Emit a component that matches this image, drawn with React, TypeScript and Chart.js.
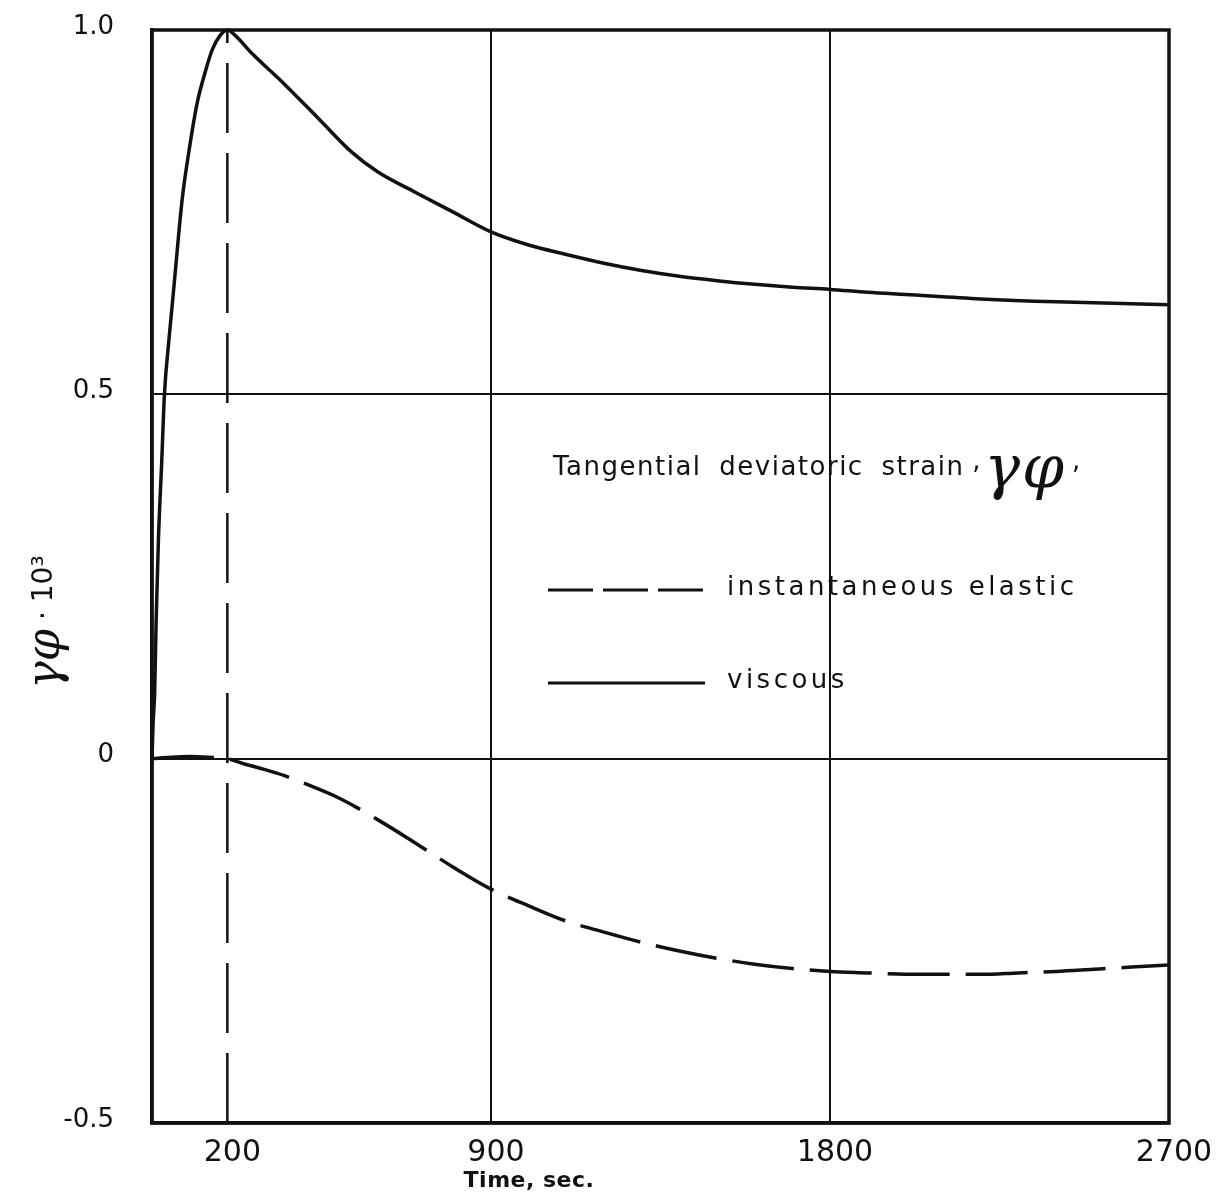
import React, { useEffect, useRef } from "react";
import { Chart, registerables } from "chart.js";

Chart.register(...registerables);

// ---- data ----
const viscousTime = [0, 3, 7, 11, 17, 26, 33, 45, 55, 63, 80, 100, 120, 140, 160, 180, 200, 220, 265, 353, 443, 531, 600, 700, 800, 900, 1000, 1100, 1200, 1300, 1400, 1500, 1600, 1700, 1800, 1900, 2000, 2200, 2400, 2700];
const viscousStrain = [0, 0.05, 0.09, 0.19, 0.3, 0.41, 0.5, 0.575, 0.63, 0.675, 0.767, 0.84, 0.9, 0.94, 0.973, 0.992, 1.0, 0.993, 0.968, 0.925, 0.878, 0.832, 0.805, 0.777, 0.75, 0.723, 0.705, 0.692, 0.68, 0.67, 0.662, 0.656, 0.651, 0.647, 0.644, 0.64, 0.637, 0.631, 0.627, 0.623];

const elasticTime = [0, 50, 100, 150, 200, 250, 300, 350, 400, 500, 600, 700, 800, 900, 1000, 1100, 1200, 1300, 1400, 1500, 1600, 1700, 1800, 1900, 2000, 2100, 2200, 2300, 2400, 2500, 2600, 2700];
const elasticStrain = [0, 0.002, 0.003, 0.002, 0, -0.008, -0.015, -0.023, -0.033, -0.055, -0.084, -0.116, -0.149, -0.179, -0.202, -0.223, -0.238, -0.252, -0.264, -0.274, -0.282, -0.288, -0.292, -0.294, -0.296, -0.296, -0.296, -0.294, -0.292, -0.289, -0.286, -0.283];

const markerTime = [200, 200];
const markerStrain = [-0.5, 1.0];

const xTicks = [200, 900, 1800, 2700];
const yTicks = [-0.5, 0, 0.5, 1.0];
const yTickLabels = ["-0.5", "0", "0.5", "1.0"];

const xTitle = "Time, sec.";
const yTitleSymbol = "γφ";
const yTitleRest = " · 10³";
const legendTitle = "Tangential deviatoric strain ";
const legendSymbol = "γφ";
const elasticLabel = "instantaneous elastic";
const viscousLabel = "viscous";

const INK = "#111";

const pts = (xs: number[], ys: number[]) => xs.map((x, i) => ({ x, y: ys[i] }));

const decor = {
  id: "decor",
  afterDraw(chart: any) {
    const { ctx, chartArea: a } = chart;
    ctx.save();
    ctx.strokeStyle = INK;
    ctx.lineWidth = 3.5;
    ctx.strokeRect(a.left, a.top, a.right - a.left, a.bottom - a.top);

    ctx.fillStyle = INK;
    ctx.textBaseline = "middle";

    // x title
    ctx.font = "bold 22px 'DejaVu Sans'";
    ctx.textAlign = "center";
    (ctx as any).letterSpacing = "0.5px";
    ctx.fillText(xTitle, 529, 1181);

    // y title
    ctx.save();
    ctx.translate(45, 622);
    ctx.rotate(-Math.PI / 2);
    ctx.textAlign = "left";
    (ctx as any).letterSpacing = "0px";
    ctx.font = "italic 46px 'DejaVu Serif'";
    const w1 = ctx.measureText(yTitleSymbol).width;
    ctx.font = "28px 'DejaVu Sans'";
    const w2 = ctx.measureText(yTitleRest).width;
    const start = -(w1 + w2) / 2;
    ctx.font = "italic 46px 'DejaVu Serif'";
    ctx.fillText(yTitleSymbol, start, 2);
    ctx.font = "28px 'DejaVu Sans'";
    ctx.fillText(yTitleRest, start + w1, 0);
    ctx.restore();

    // legend
    ctx.textAlign = "left";
    ctx.font = "26px 'DejaVu Sans'";
    (ctx as any).letterSpacing = "1.5px";
    (ctx as any).wordSpacing = "8px";
    ctx.fillText(legendTitle, 553, 468);
    let lx = 553 + ctx.measureText(legendTitle).width;
    (ctx as any).wordSpacing = "0px";
    ctx.fillText(",", lx - 10, 462);
    lx += 2;
    ctx.font = "italic 60px 'DejaVu Serif'";
    (ctx as any).letterSpacing = "2px";
    ctx.fillText(legendSymbol, lx, 472);
    lx += ctx.measureText(legendSymbol).width + 6;
    (ctx as any).letterSpacing = "0px";
    ctx.font = "26px 'DejaVu Sans'";
    ctx.fillText(",", lx, 462);

    ctx.lineWidth = 3;
    ctx.setLineDash([45, 10]);
    ctx.beginPath();
    ctx.moveTo(548, 590);
    ctx.lineTo(705, 590);
    ctx.stroke();
    ctx.setLineDash([]);
    ctx.beginPath();
    ctx.moveTo(548, 683);
    ctx.lineTo(705, 683);
    ctx.stroke();

    ctx.font = "26px 'DejaVu Sans'";
    (ctx as any).letterSpacing = "3.5px";
    ctx.fillText(elasticLabel, 727, 588);
    ctx.fillText(viscousLabel, 727, 681);
    ctx.restore();
  },
};

export default function App() {
  const ref = useRef<HTMLCanvasElement | null>(null);
  useEffect(() => {
    if (!ref.current) return;
    Chart.defaults.font.family = "'DejaVu Sans'";
    const chart = new Chart(ref.current, {
      type: "line",
      data: {
        datasets: [
          {
            label: viscousLabel,
            data: pts(viscousTime, viscousStrain),
            borderColor: INK,
            borderWidth: 3.5,
            pointRadius: 0,
            cubicInterpolationMode: "monotone",
            fill: false,
            clip: 8,
          },
          {
            label: elasticLabel,
            data: pts(elasticTime, elasticStrain),
            borderColor: INK,
            borderWidth: 3.5,
            borderDash: [62, 16],
            pointRadius: 0,
            cubicInterpolationMode: "monotone",
            fill: false,
            clip: 8,
          },
          {
            label: "t = 200",
            data: pts(markerTime, markerStrain),
            borderColor: INK,
            borderWidth: 2.5,
            borderDash: [70, 20],
            pointRadius: 0,
            fill: false,
          },
        ],
      },
      options: {
        animation: false,
        responsive: false,
        maintainAspectRatio: false,
        layout: { padding: { left: 0, top: 30, right: 50, bottom: 0 } },
        plugins: { legend: { display: false }, tooltip: { enabled: false } },
        scales: {
          x: {
            type: "linear",
            min: 0,
            max: 2700,
            afterBuildTicks: (s: any) => {
              s.ticks = xTicks.map((v) => ({ value: v }));
            },
            afterFit: (s: any) => {
              s.height = 80;
              s.paddingLeft = 0;
              s.paddingRight = 0;
            },
            ticks: {
              color: INK,
              font: { size: 30 },
              padding: 12,
              labelOffset: 5,
              maxRotation: 0,
              autoSkip: false,
              callback: (v: any) => String(v),
            },
            grid: {
              drawTicks: false,
              lineWidth: 2,
              color: (c: any) => (c.tick && (c.tick.value === 900 || c.tick.value === 1800) ? INK : "rgba(0,0,0,0)"),
            },
            border: { display: true, color: INK, width: 3.5 },
          },
          y: {
            type: "linear",
            min: -0.5,
            max: 1.0,
            afterBuildTicks: (s: any) => {
              s.ticks = yTicks.map((v) => ({ value: v }));
            },
            afterFit: (s: any) => {
              s.width = 152;
              s.paddingTop = 0;
              s.paddingBottom = 0;
            },
            ticks: {
              color: INK,
              font: { size: 26 },
              padding: 38,
              labelOffset: -3,
              autoSkip: false,
              callback: (v: any) => {
                const i = yTicks.indexOf(Number(v));
                return i >= 0 ? yTickLabels[i] : "";
              },
            },
            grid: {
              drawTicks: false,
              lineWidth: 2,
              color: (c: any) => (c.tick && (c.tick.value === 0 || c.tick.value === 0.5) ? INK : "rgba(0,0,0,0)"),
            },
            border: { display: true, color: INK, width: 3.5 },
          },
        },
      },
      plugins: [decor],
    } as any);
    return () => chart.destroy();
  }, []);
  return (
    <div style={{ position: "absolute", left: 0, top: 0, width: 1219, height: 1203, background: "#fff" }}>
      <canvas ref={ref} width={1219} height={1203} />
    </div>
  );
}
